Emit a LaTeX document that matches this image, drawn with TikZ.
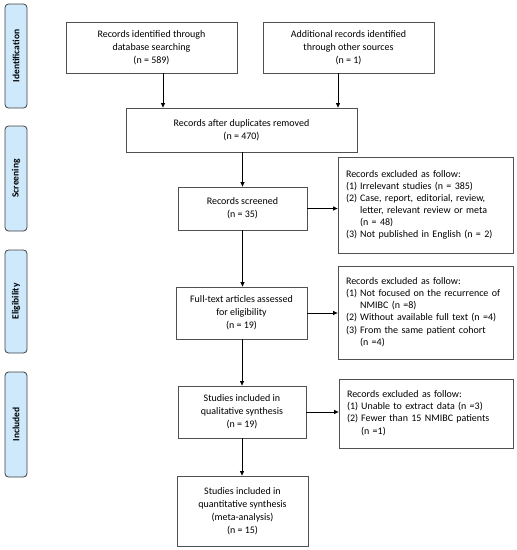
\documentclass[tikz,border=0pt]{standalone}
\usepackage{fontspec}
\setmainfont{Carlito}
\usetikzlibrary{arrows.meta}
\definecolor{sidefill}{HTML}{CDE9FB}
\definecolor{sideline}{HTML}{404040}
\definecolor{boxline}{HTML}{505050}
\tikzset{
  mainbox/.style={draw=boxline, line width=0.8pt, align=center, inner sep=2pt,
    font=\fontsize{10}{13}\selectfont},
  exclbox/.style={draw=boxline, line width=0.8pt, align=left, inner xsep=8pt, inner ysep=2pt,
    font=\fontsize{10}{13}\selectfont},
  sidebox/.style={draw=sideline, fill=sidefill, line width=0.8pt, rounded corners=3.5pt,
    rotate=90, minimum height=22pt, inner sep=0pt, font=\bfseries\fontsize{9.5}{11}\selectfont},
  arr/.style={-{Triangle[length=4.5pt,width=4pt]}, line width=0.7pt, black},
}
\newcommand{\excl}[1]{{\renewcommand{\arraystretch}{0.93}\begin{tabular}{@{}l@{\hspace{3pt}}l@{}}#1\end{tabular}}}
\begin{document}
\begin{tikzpicture}[x=1pt,y=-1pt]
\useasboundingbox (0,0) rectangle (517,550);
% side labels
\node[sidebox, minimum width=104pt] (sid) at (16,56) {Identification};
\node[sidebox, minimum width=105pt] (sscr) at (16,178.5) {Screening};
\node[sidebox, minimum width=103pt] (seli) at (16,301.5) {Eligibility};
\node[sidebox, minimum width=105pt] (sinc) at (16,424.5) {Included};
% main boxes
\node[mainbox, minimum width=171pt, minimum height=51pt] (b1) at (151.5,47.5)
  {Records identified through\\database searching\\(n = 589)};
\node[mainbox, minimum width=171pt, minimum height=51pt] (b2) at (348.5,47.5)
  {Additional records identified\\through other sources\\(n = 1)};
\node[mainbox, minimum width=231pt, minimum height=44pt] (b3) at (241.5,130)
  {Records after duplicates removed\\(n = 470)};
\node[mainbox, minimum width=129pt, minimum height=43pt] (b4) at (242.5,208.5)
  {Records screened\\(n = 35)};
\node[mainbox, minimum width=131pt, minimum height=52pt] (b5) at (241.5,313)
  {Full-text articles assessed\\for eligibility\\(n = 19)};
\node[mainbox, minimum width=128pt, minimum height=52pt] (b6) at (242,412)
  {Studies included in\\qualitative synthesis\\(n = 19)};
\node[mainbox, minimum width=131pt, minimum height=70pt] (b7) at (242.5,511)
  {Studies included in\\quantitative synthesis\\(meta-analysis)\\(n = 15)};
% exclusion boxes
\node[exclbox, text width=159pt, minimum height=96pt] (e1) at (425.5,205)
  {\excl{\multicolumn{2}{@{}l@{}}{Records excluded as follow:}\\
  (1) & Irrelevant studies (n = 385)\\
  (2) & Case, report, editorial, review,\\
      & letter, relevant review or meta\\
      & (n = 48)\\
  (3) & Not published in English (n = 2)}};
\node[exclbox, text width=159pt, minimum height=93pt] (e2) at (425.5,312.5)
  {\excl{\multicolumn{2}{@{}l@{}}{Records excluded as follow:}\\
  (1) & Not focused on the recurrence of\\
      & NMIBC (n =8)\\
  (2) & Without available full text (n =4)\\
  (3) & From the same patient cohort\\
      & (n =4)}};
\node[exclbox, text width=158pt, minimum height=69pt] (e3) at (426,413.5)
  {\excl{\multicolumn{2}{@{}l@{}}{Records excluded as follow:}\\
  (1) & Unable to extract data (n =3)\\
  (2) & Fewer than 15 NMIBC patients\\
      & (n =1)}};
% arrow anchors
\coordinate (c1) at (163,0);
\coordinate (c2) at (338,0);
% arrows
\draw[arr] (b1.south -| c1) -- (b3.north -| c1);
\draw[arr] (b2.south -| c2) -- (b3.north -| c2);
\draw[arr] (b3.south -| b4.north) -- (b4.north);
\draw[arr] (b4.south) -- (b5.north -| b4.south);
\draw[arr] (b5.south -| b6.north) -- (b6.north);
\draw[arr] (b6.south) -- (b7.north -| b6.south);
\draw[arr] (b4.east) -- (b4.east -| e1.west);
\draw[arr] (b5.east) -- (b5.east -| e2.west);
\draw[arr] (b6.east) -- (b6.east -| e3.west);
\end{tikzpicture}
\end{document}
